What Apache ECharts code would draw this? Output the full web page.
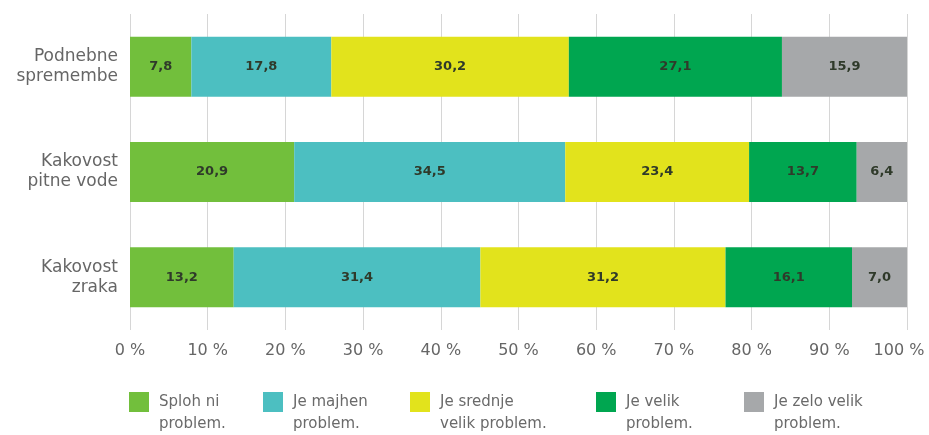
<!DOCTYPE html>
<html>
<head>
<meta charset="utf-8">
<script src="https://cdn.jsdelivr.net/npm/echarts@6/dist/echarts.min.js"></script>
<style>
  html, body { margin: 0; padding: 0; background: #fff; }
  #main { width: 929px; height: 435px; }
</style>
</head>
<body>
<div id="main"></div>
<script>
// kategorije (os y)
var categories = ['Podnebne\nspremembe', 'Kakovost\npitne vode', 'Kakovost\nzraka'];
// odgovori
var seriesNames = ['Sploh ni\nproblem.', 'Je majhen\nproblem.', 'Je srednje\nvelik problem.', 'Je velik\nproblem.', 'Je zelo velik\nproblem.'];
var splohNi = [7.8, 20.9, 13.2];
var majhen = [17.8, 34.5, 31.4];
var srednje = [30.2, 23.4, 31.2];
var velik = [27.1, 13.7, 16.1];
var zeloVelik = [15.9, 6.4, 7.0];
var xTicks = [0, 10, 20, 30, 40, 50, 60, 70, 80, 90, 100];

var colors = ['#72bf3c', '#4cbfc1', '#e2e31c', '#00a650', '#a6a8aa'];
var legendLeft = [129, 263, 410, 596, 744];
var FONT = 'DejaVu Sans';

var values = [splohNi, majhen, srednje, velik, zeloVelik];
// vsota vrstice, da stolpci segajo do 100 %
var rowSum = categories.map(function (c, i) {
  return values.reduce(function (s, arr) { return s + arr[i]; }, 0);
});

var chart = echarts.init(document.getElementById('main'), null, { renderer: 'canvas' });

var series = seriesNames.map(function (name, k) {
  return {
    name: name,
    type: 'bar',
    stack: 'total',
    barWidth: 60,
    itemStyle: { color: colors[k] },
    label: {
      show: true,
      position: 'inside',
      fontFamily: FONT,
      fontSize: 13,
      fontWeight: 'bold',
      color: '#2f3a2a',
      formatter: function (p) {
        return values[k][p.dataIndex].toFixed(1).replace('.', ',');
      }
    },
    data: values[k].map(function (v, i) { return v / rowSum[i] * 100; })
  };
});

// legenda: prva vrstica besedila v višini ikone
var legends = seriesNames.map(function (name, k) {
  return {
    data: [name],
    left: legendLeft[k],
    top: 369,
    padding: 0,
    itemWidth: 20,
    itemHeight: 20,
    itemGap: 0,
    icon: 'rect',
    selectedMode: false,
    formatter: function (n) { return '\n' + n; },
    textStyle: {
      fontFamily: FONT,
      fontSize: 15,
      color: '#6a6a6a',
      lineHeight: 22,
      padding: [0, 0, 0, 5]
    }
  };
});

var option = {
  animation: false,
  backgroundColor: '#ffffff',
  grid: { left: 130, right: 22, top: 14, bottom: 105, outerBoundsMode: 'none', containLabel: false },
  legend: legends,
  xAxis: {
    type: 'value',
    min: 0,
    max: 100,
    interval: 10,
    axisLine: { show: false },
    axisTick: { show: false },
    splitLine: { show: true, lineStyle: { color: '#d6d6d6', width: 1 } },
    axisLabel: {
      margin: 13,
      fontFamily: FONT,
      fontSize: 16,
      color: '#666666',
      formatter: function (v) {
        if (xTicks.indexOf(v) < 0) return '';
        // zadnja oznaka malo v levo, da ne seže čez rob
        return v === 100 ? '{last|' + v + ' %}' : v + ' %';
      },
      rich: {
        last: { fontFamily: FONT, fontSize: 16, color: '#666666', padding: [0, 16, 0, 0] }
      }
    }
  },
  yAxis: {
    type: 'category',
    inverse: true,
    data: categories,
    axisLine: { show: false },
    axisTick: { show: false },
    axisLabel: {
      margin: 12,
      fontFamily: FONT,
      fontSize: 17,
      lineHeight: 20,
      color: '#666666',
      align: 'right'
    }
  },
  series: series
};

chart.setOption(option);
</script>
</body>
</html>
